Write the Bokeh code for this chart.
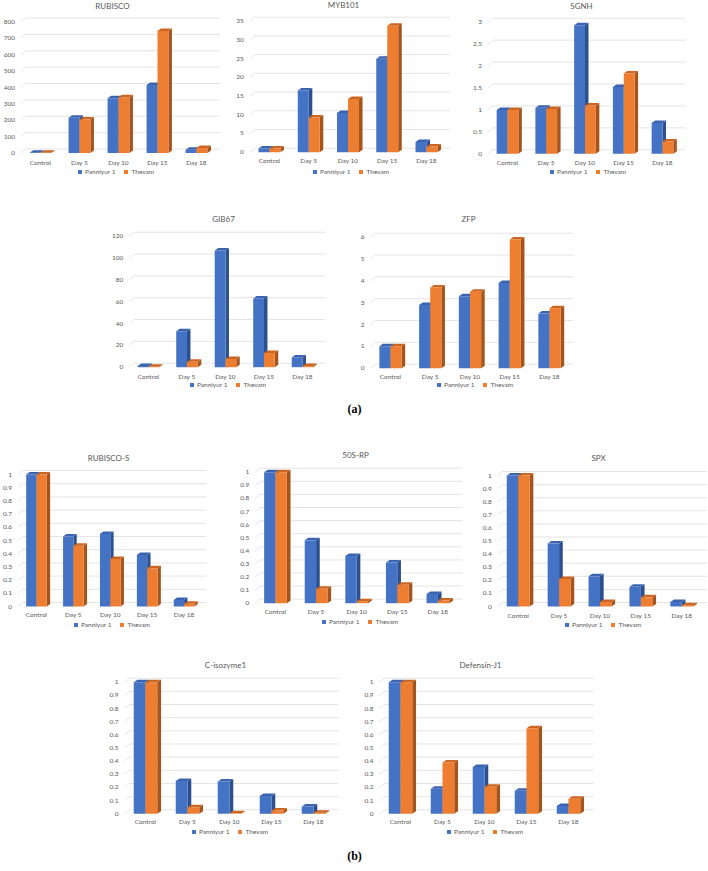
import numpy as np
from bokeh.plotting import figure
from bokeh.models import (Range1d, FixedTicker, CustomJSTickFormatter, Legend, LegendItem,
                          ColumnDataSource, Spacer, Label, LinearAxis, Grid)
from bokeh.layouts import column, row
from bokeh.embed import file_html
from bokeh.resources import INLINE

categories = ["Control", "Day 5", "Day 10", "Day 15", "Day 18"]
series_names = ["Panniyur 1", "Thevam"]

# (a) fold-change data
rubisco_p = [1, 215, 335, 415, 20]
rubisco_t = [1, 205, 340, 745, 30]
rubisco_ticks = [0, 100, 200, 300, 400, 500, 600, 700, 800]

myb101_p = [1, 16.5, 10.5, 25, 2.7]
myb101_t = [1, 9.3, 14.2, 33.8, 1.5]
myb101_ticks = [0, 5, 10, 15, 20, 25, 30, 35]

sgnh_p = [1, 1.05, 2.93, 1.52, 0.7]
sgnh_t = [1, 1.02, 1.1, 1.83, 0.28]
sgnh_ticks = [0, 0.5, 1, 1.5, 2, 2.5, 3]

gib67_p = [1, 33, 107, 63, 9]
gib67_t = [0.5, 5, 7.5, 13, 1]
gib67_ticks = [0, 20, 40, 60, 80, 100, 120]

zfp_p = [1, 2.9, 3.3, 3.9, 2.5]
zfp_t = [1, 3.7, 3.5, 5.9, 2.75]
zfp_ticks = [0, 1, 2, 3, 4, 5, 6]

# (b) relative expression data
rubiscos_p = [1, 0.53, 0.55, 0.39, 0.05]
rubiscos_t = [1, 0.46, 0.36, 0.29, 0.02]

rp50s_p = [1, 0.48, 0.36, 0.31, 0.07]
rp50s_t = [1, 0.11, 0.015, 0.14, 0.02]

spx_p = [1, 0.48, 0.23, 0.15, 0.035]
spx_t = [1, 0.21, 0.035, 0.07, 0.01]

ciso_p = [1, 0.25, 0.245, 0.135, 0.055]
ciso_t = [1, 0.05, 0.005, 0.025, 0.008]

defj1_p = [1, 0.19, 0.355, 0.175, 0.06]
defj1_t = [1, 0.39, 0.205, 0.65, 0.115]

rel_ticks = [0, 0.1, 0.2, 0.3, 0.4, 0.5, 0.6, 0.7, 0.8, 0.9, 1]

FONT = "Lato"
TXT = "#595959"
BLUE = ("#4472C4", "#3A63B0", "#2C4F8E")
ORANGE = ("#ED7D31", "#CB6522", "#A5541B")
LEG_W = 70


def no_grids(p):
    for g in p.select(type=Grid):
        g.visible = False


def chart(title, pan, thv, yticks, ox, oy, W, H, ctrl, sp, zero, top,
          title_pos, xlab_y, leg_pos):
    # page pixel geometry -> local -> data ranges (frame covers the whole figure)
    cl = ctrl - ox
    B = zero - oy
    ttick = top - oy
    ymax = yticks[-1]
    upp = ymax / (B - ttick)          # data units per pixel (y)
    xr = Range1d(-cl / sp, (W - cl) / sp)
    yr = Range1d((B - H) * upp, B * upp)
    p = figure(width=W, height=H, x_range=xr, y_range=yr, title=None,
               output_backend="svg", toolbar_location=None,
               x_axis_location=None, y_axis_location=None, min_border=0)
    p.outline_line_color = None
    p.background_fill_color = None
    p.border_fill_color = None

    xstart, xend = -0.5, 4.6
    # back-wall gridlines
    gdx = 0.12
    gdy = 4 * upp
    for t in yticks:
        p.line([xstart, xstart + gdx, xend], [t, t + gdy, t + gdy],
               line_color="#D9D9D9", line_width=0.7)

    w = 0.28
    dx = 0.09
    dy = 2.5 * upp
    c = np.arange(len(categories))
    renderers = []
    for vals, x0s, cols in ((pan, c - w, BLUE), (thv, c.astype(float), ORANGE)):
        vals = np.array(vals, dtype=float)
        x1s = x0s + w
        side_xs = [[a, a + dx, a + dx, a] for a in x1s]
        side_ys = [[0, dy, v + dy, v] for v in vals]
        top_xs = [[a, b, b + dx, a + dx] for a, b in zip(x0s, x1s)]
        top_ys = [[v, v, v + dy, v + dy] for v in vals]
        p.patches(side_xs, side_ys, fill_color=cols[2], line_color=None)
        p.patches(top_xs, top_ys, fill_color=cols[1], line_color=None)
        src = ColumnDataSource(dict(left=x0s, right=x1s, top=vals))
        r = p.quad(left="left", right="right", bottom=0, top="top", source=src,
                   fill_color=cols[0], line_color=None)
        renderers.append(r)

    # title
    tx = (title_pos[0] - ctrl) / sp
    ty = (zero - title_pos[1]) * upp
    p.add_layout(Label(x=tx, y=ty, text=title, text_align="center", text_baseline="middle",
                       text_font=FONT, text_font_size="8px", text_color=TXT))

    # axes drawn at fixed data locations
    yax = LinearAxis(fixed_location=xstart, ticker=FixedTicker(ticks=yticks),
                     formatter=CustomJSTickFormatter(code="return String(Math.round(tick*100)/100);"))
    xax = LinearAxis(fixed_location=0, ticker=FixedTicker(ticks=list(range(len(categories)))),
                     major_label_overrides={i: s for i, s in enumerate(categories)})
    for ax in (xax, yax):
        ax.axis_line_color = None
        ax.major_tick_line_color = None
        ax.minor_tick_line_color = None
        ax.major_tick_in = 0
        ax.major_tick_out = 0
        ax.minor_tick_in = 0
        ax.minor_tick_out = 0
        ax.major_label_text_font = FONT
        ax.major_label_text_font_size = "6.5px"
        ax.major_label_text_color = TXT
    yax.major_label_standoff = 6
    xax.major_label_standoff = max(1, int(round((xlab_y - zero) - 4)))
    p.add_layout(yax, "left")
    p.add_layout(xax, "below")

    legend = Legend(items=[LegendItem(label=series_names[0], renderers=[renderers[0]]),
                           LegendItem(label=series_names[1], renderers=[renderers[1]])],
                    orientation="horizontal",
                    location=(leg_pos[0] - ox - LEG_W / 2, oy + H - leg_pos[1] - 4),
                    label_text_font=FONT, label_text_font_size="6.5px", label_text_color=TXT,
                    glyph_width=5, glyph_height=5, label_standoff=3, spacing=8,
                    padding=0, margin=0, border_line_color=None, background_fill_alpha=0,
                    label_height=8)
    p.add_layout(legend)
    no_grids(p)
    return p


def panel_label(text, H, ty):
    p = figure(width=708, height=H, x_range=Range1d(0, 708), y_range=Range1d(0, H), title=None,
               output_backend="svg", toolbar_location=None,
               x_axis_location=None, y_axis_location=None, min_border=0)
    p.outline_line_color = None
    no_grids(p)
    p.add_layout(Label(x=354, y=H - ty, text=text, text_align="center", text_baseline="middle",
                       text_font="Liberation Serif", text_font_style="bold",
                       text_font_size="12px", text_color="#000000"))
    return p


f1 = chart("RUBISCO", rubisco_p, rubisco_t, rubisco_ticks, 0, 0, 236, 182,
           40, 39, 152.5, 21.5, (112, 5), 162, (112, 171.7))
f2 = chart("MYB101", myb101_p, myb101_t, myb101_ticks, 236, 0, 236, 182,
           269, 39.25, 151.7, 20.7, (236 + 107, 4.5), 160.7, (236 + 111, 171))
f3 = chart("SGNH", sgnh_p, sgnh_t, sgnh_ticks, 472, 0, 236, 182,
           507, 38.75, 153.3, 21.7, (472 + 109, 5), 162, (472 + 112, 171.7))
f4 = chart("GIB67", gib67_p, gib67_t, gib67_ticks, 95, 182, 255, 210,
           148, 38.5, 366.7, 235.7, (223, 218), 376.7, (95 + 129, 384.5))
f5 = chart("ZFP", zfp_p, zfp_t, zfp_ticks, 350, 182, 265, 210,
           390, 39.75, 367.7, 236.7, (468, 218), 376.7, (350 + 121, 384.5))
la = panel_label("(a)", 36, 16)
f6 = chart("RUBISCO-S", rubiscos_p, rubiscos_t, rel_ticks, 0, 428, 236, 212,
           36, 36.9, 606, 474, (108, 457.7), 614.3, (108, 624))
f7 = chart("50S-RP", rp50s_p, rp50s_t, rel_ticks, 236, 428, 236, 212,
           275, 40.6, 602.7, 471.7, (236 + 119, 454.3), 611.7, (236 + 120, 621))
f8 = chart("SPX", spx_p, spx_t, rel_ticks, 472, 428, 236, 212,
           517.7, 40.9, 606, 475, (472 + 126, 457.7), 615, (472 + 127, 624))
f9 = chart("C-isozyme1", ciso_p, ciso_t, rel_ticks, 95, 640, 255, 202,
           145, 42, 813.3, 681.7, (95 + 130, 664), 821.7, (95 + 131, 831))
f10 = chart("Defensin-J1", defj1_p, defj1_t, rel_ticks, 350, 640, 265, 202,
            400, 42, 813.3, 681.7, (350 + 130, 664), 821.7, (350 + 131, 831))
lb = panel_label("(b)", 29, 13)

layout = column(
    row(f1, f2, f3, spacing=0),
    row(Spacer(width=95, height=210), f4, f5, spacing=0),
    la,
    row(f6, f7, f8, spacing=0),
    row(Spacer(width=95, height=202), f9, f10, spacing=0),
    lb,
    spacing=0,
)

open("out.html", "w").write(file_html(layout, INLINE))
